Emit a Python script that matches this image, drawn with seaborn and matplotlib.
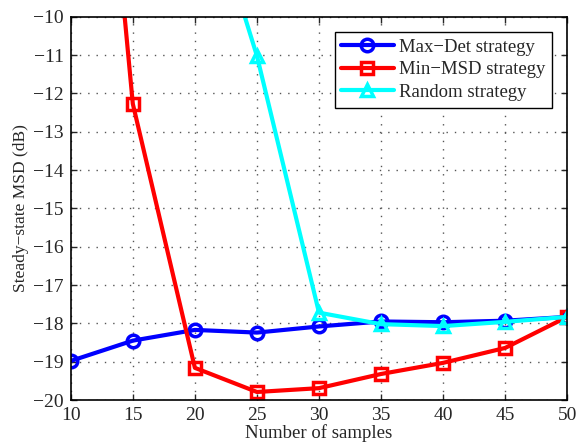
import numpy as np
import pandas as pd
import seaborn as sns
import matplotlib.pyplot as plt

# %%
samples = [10, 15, 20, 25, 30, 35, 40, 45, 50]
max_det = [-18.98, -18.45, -18.17, -18.24, -18.08, -17.95, -17.97, -17.93, -17.83]
min_msd = [5.0, -12.27, -19.16, -19.79, -19.69, -19.32, -19.03, -18.64, -17.83]
random_ = [np.nan, np.nan, -5.8, -11.02, -17.72, -18.02, -18.07, -17.96, -17.83]

series = [
    ('Max\u2212Det strategy', max_det, 'blue', 'o'),
    ('Min\u2212MSD strategy', min_msd, 'red', 's'),
    ('Random strategy', random_, 'cyan', '^'),
]

# %%
sns.set_style('ticks')
plt.rcParams['font.family'] = ['Liberation Serif', 'DejaVu Serif']

fig = plt.figure(figsize=(5.8, 4.43), dpi=100)
ax = fig.add_axes([0.122, 0.097, 0.856, 0.865])

for name, vals, col, mk in series:
    df = pd.DataFrame({'x': samples, 'y': vals}).dropna()
    sns.lineplot(data=df, x='x', y='y', ax=ax, color=col, marker=mk,
                 lw=3, ms=9, mfc='none', mec=col, mew=2.5, label=name)

ax.set_xlim(10, 50)
ax.set_ylim(-20, -10)
ax.set_xticks(range(10, 51, 5))
ax.set_yticks(range(-20, -9))
ax.set_yticklabels(['\u2212%d' % abs(v) for v in range(-20, -9)])
ax.tick_params(direction='in', labelsize=14, top=True, right=True, length=4, width=1, pad=5)
ax.grid(True, linestyle=(0, (1, 5)), color='#555555', linewidth=1.0)
for s in ax.spines.values():
    s.set_linewidth(1.2)
    s.set_color('black')

ax.set_xlabel('Number of samples', fontsize=13.5, labelpad=0)
ax.set_ylabel('Steady\u2212state MSD (dB)', fontsize=12.5, labelpad=3)

leg = ax.legend(loc='upper right', fontsize=13.5, frameon=True, fancybox=False,
                edgecolor='black', framealpha=1, borderaxespad=0.8,
                handlelength=2.8, labelspacing=0.3, borderpad=0.35, handletextpad=0.3)
leg.get_frame().set_linewidth(1.0)

plt.savefig('out.png', dpi=100)
